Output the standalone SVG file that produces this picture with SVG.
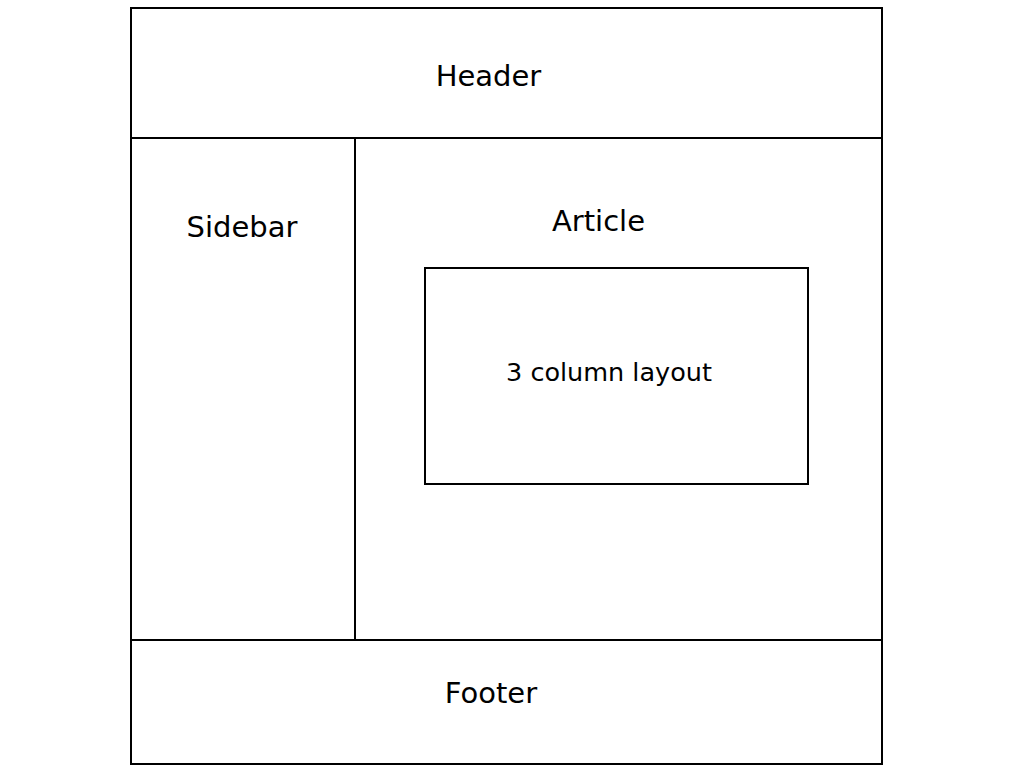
<svg xmlns="http://www.w3.org/2000/svg" width="1024" height="768" viewBox="0 0 1024 768">
<style>
.box{fill:none;stroke:#000;stroke-width:2}
.t{font-family:"DejaVu Sans",sans-serif;font-size:29px;fill:#000;text-anchor:middle;dominant-baseline:central}
.s{font-size:25.5px}
</style>
<rect width="1024" height="768" fill="#fff"/>
<g id="page"><rect class="box" x="131" y="8" width="751" height="756"/></g>
<g id="header"><rect class="box" x="131" y="8" width="751" height="130"/><text class="t" x="488.5" y="76">Header</text></g>
<g id="sidebar"><rect class="box" x="131" y="138" width="224" height="502"/><text class="t" x="242" y="227">Sidebar</text></g>
<g id="article"><rect class="box" x="355" y="138" width="527" height="502"/><text class="t" x="598.5" y="221">Article</text></g>
<g id="layout"><rect class="box" x="425" y="268" width="383" height="216"/><text class="t s" x="609" y="372">3 column layout</text></g>
<g id="footer"><rect class="box" x="131" y="640" width="751" height="124"/><text class="t" x="491" y="693">Footer</text></g>
<g id="connectors"/>
</svg>
